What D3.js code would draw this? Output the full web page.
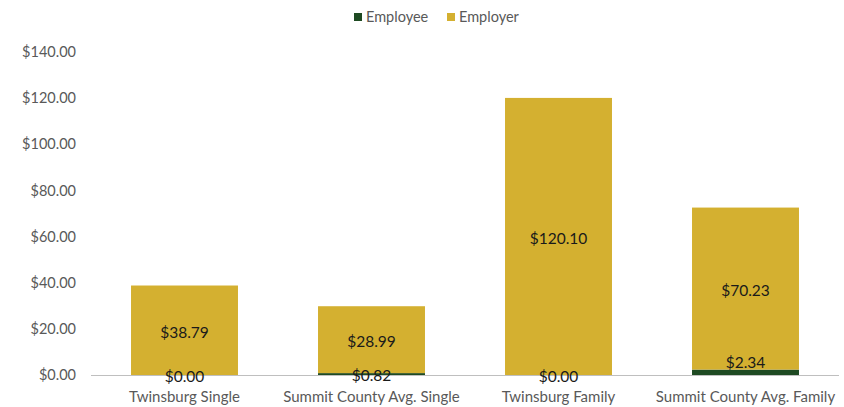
<!DOCTYPE html>
<html><head><meta charset="utf-8">
<script src="https://cdn.jsdelivr.net/npm/d3@7"></script>
<style>body{margin:0;background:#fff;} text{font-family:Lato, "Open Sans", sans-serif;}</style>
</head><body>
<svg id="c" width="844" height="407"></svg>
<script>
const categories = ["Twinsburg Single", "Summit County Avg. Single", "Twinsburg Family", "Summit County Avg. Family"];
const employee = [0.00, 0.82, 0.00, 2.34];
const employer = [38.79, 28.99, 120.10, 70.23];
const seriesNames = ["Employee", "Employer"];
const yTicks = [0, 20, 40, 60, 80, 100, 120, 140];
const colors = {Employee: "#1e4a22", Employer: "#d4b030"};

const svg = d3.select("#c");
const x = d3.scaleBand().domain(categories).range([91, 839]).paddingInner(0.428).paddingOuter(0.214);
const y = d3.scaleLinear().domain([0, 140]).range([375, 52]);
const fmt = v => "$" + d3.format(",.2f")(v);

// y tick labels
const yAxis = d3.axisLeft(y).tickValues(yTicks).tickFormat(fmt).tickSize(0).tickPadding(0);
const ya = svg.append("g").attr("transform", "translate(76,0)").call(yAxis);
ya.select(".domain").remove();
ya.selectAll("text").attr("fill", "#595959").style("font-size", "14.5px").style("font-family", "Lato, sans-serif");

const data = categories.map((c, i) => ({c, Employee: employee[i], Employer: employer[i]}));
const stack = d3.stack().keys(seriesNames)(data);

svg.append("g").selectAll("g").data(stack).join("g")
  .attr("fill", d => colors[d.key])
  .selectAll("rect").data(d => d).join("rect")
  .attr("x", d => x(d.data.c))
  .attr("width", x.bandwidth())
  .attr("y", d => y(d[1]))
  .attr("height", d => y(d[0]) - y(d[1]));

// x axis
const xAxis = d3.axisBottom(x).tickSize(0).tickPadding(16);
const xa = svg.append("g").attr("transform", "translate(0,375)").call(xAxis);
xa.select(".domain").attr("stroke", "#bfbfbf").attr("d", "M91,0.5H839");
xa.selectAll("text").attr("fill", "#595959").style("font-size", "15px").style("font-family", "Lato, sans-serif");

// labels
const lbl = svg.append("g").style("font-size", "15.5px").attr("fill", "#1a1a1a").attr("text-anchor", "middle");
data.forEach(d => {
  const cx = x(d.c) + x.bandwidth() / 2;
  lbl.append("text").attr("x", cx).attr("y", y(d.Employee + d.Employer / 2) + 2).attr("dy", "0.35em").text(fmt(d.Employer));
  const off = d.Employee > 1 ? -10 : 2;
  lbl.append("text").attr("x", cx).attr("y", y(d.Employee / 2) + off).attr("dy", "0.35em").text(fmt(d.Employee));
});

// legend
const lg = svg.append("g").style("font-size", "14.5px");
const legendX = [354, 447];
seriesNames.forEach((s, i) => {
  lg.append("rect").attr("x", legendX[i]).attr("y", 13).attr("width", 8).attr("height", 8).attr("fill", colors[s]);
  lg.append("text").attr("x", legendX[i] + 12).attr("y", 17).attr("dy", "0.35em").attr("fill", "#595959").text(s);
});
</script>
</body></html>
